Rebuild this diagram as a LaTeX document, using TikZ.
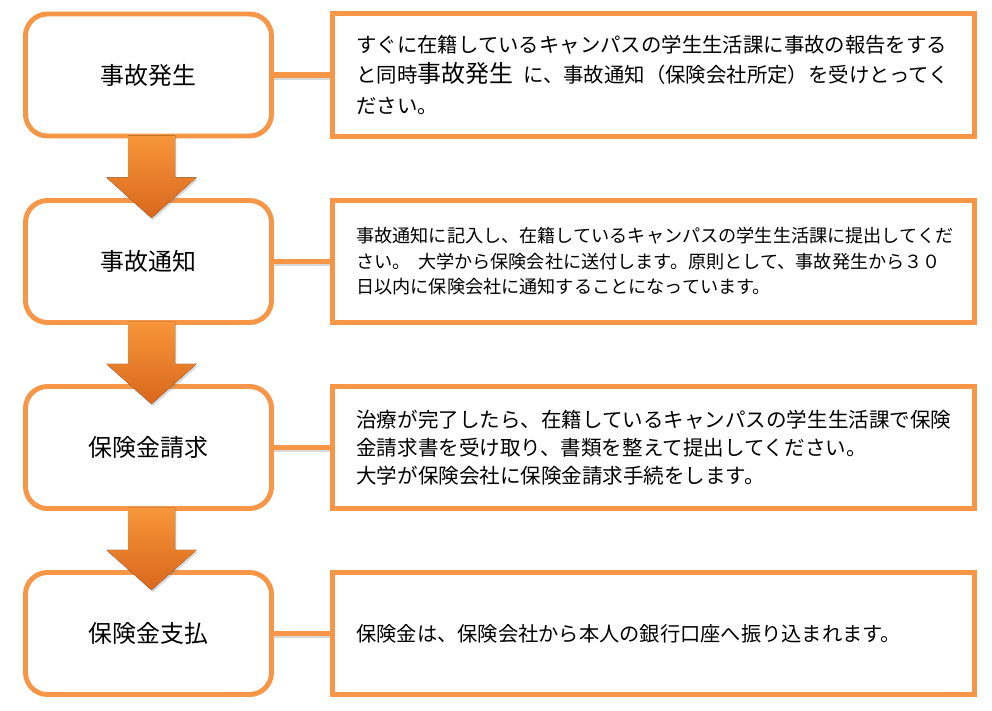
\documentclass[tikz,border=0pt]{standalone}
\usepackage{fontspec}
\setmainfont{Noto Sans CJK JP}
\usetikzlibrary{calc,shadows}
\definecolor{accentorange}{HTML}{F79646}
\definecolor{arrowtop}{HTML}{F7963A}
\definecolor{arrowbottom}{HTML}{D9671C}

\begin{document}
\begin{tikzpicture}[x=0.025cm, y=-0.025cm,
  stepnode/.style={draw=accentorange, line width=3.5pt, rounded corners=0.55cm, fill=white,
    minimum width=6.15cm, minimum height=3.05cm, font=\fontsize{17}{20}\selectfont},
  notebox/.style={draw=accentorange, line width=3.5pt, fill=white, minimum width=16.05cm,
    minimum height=3.07cm, text width=14.85cm, inner xsep=0.6cm, align=left},
  link/.style={draw=accentorange, line width=3.6pt},
  linkshadow/.style={draw=black!15, line width=3pt},
  downarrow/.style={top color=arrowtop, bottom color=arrowbottom,
    drop shadow={shadow xshift=1pt, shadow yshift=-1.5pt, opacity=0.3}}
]
\useasboundingbox (0,0) rectangle (992,710);
\node[stepnode] (s1) at (148.5,75) {事故発生};
\node[stepnode] (s2) at (148.5,261.5) {事故通知};
\node[stepnode] (s3) at (148.5,447.5) {保険金請求};
\node[stepnode] (s4) at (148.5,633.5) {保険金支払};
\node[notebox, font=\fontsize{14.5}{21.7}\selectfont] (n1) at (653.5,75) {すぐに在籍しているキャンパスの学生生活課に事故の報告をする\\と同時{\fontsize{17}{21.7}\selectfont 事故発生}\hspace{0.5em}に、事故通知（保険会社所定）を受けとってく\\ださい。};
\node[notebox, font=\fontsize{12.9}{18.1}\selectfont] (n2) at (653.5,261.5) {事故通知に記入し、在籍しているキャンパスの学生生活課に提出してくだ\\さい。\hspace{0.4em}大学から保険会社に送付します。原則として、事故発生から３０\\日以内に保険会社に通知することになっています。};
\node[notebox, font=\fontsize{14.6}{19.9}\selectfont] (n3) at (653.5,447.5) {治療が完了したら、在籍しているキャンパスの学生生活課で保険\\金請求書を受け取り、書類を整えて提出してください。\\大学が保険会社に保険金請求手続をします。};
\node[notebox, font=\fontsize{14.4}{19.9}\selectfont] (n4) at (653.5,633.5) {保険金は、保険会社から本人の銀行口座へ振り込まれます。};
\foreach \a/\b in {s1/n1,s2/n2,s3/n3,s4/n4} {
  \draw[linkshadow] ([yshift=-1.8pt]\a.east) -- ([yshift=-1.8pt]\b.west);
  \draw[link] (\a.east) -- (\b.west);
}
\foreach \a/\b in {s1/s2,s2/s3,s3/s4}
  \fill[downarrow] ($(\a.south)+(-20.5,-3)$) -- ($(\a.south)+(26.5,-3)$) -- ($(\a.south)+(26.5,39)$)
    -- ($(\a.south)+(48,39)$) -- ($(\b.north)+(3,20)$) -- ($(\a.south)+(-42,39)$)
    -- ($(\a.south)+(-20.5,39)$) -- cycle;
\end{tikzpicture}
\end{document}
